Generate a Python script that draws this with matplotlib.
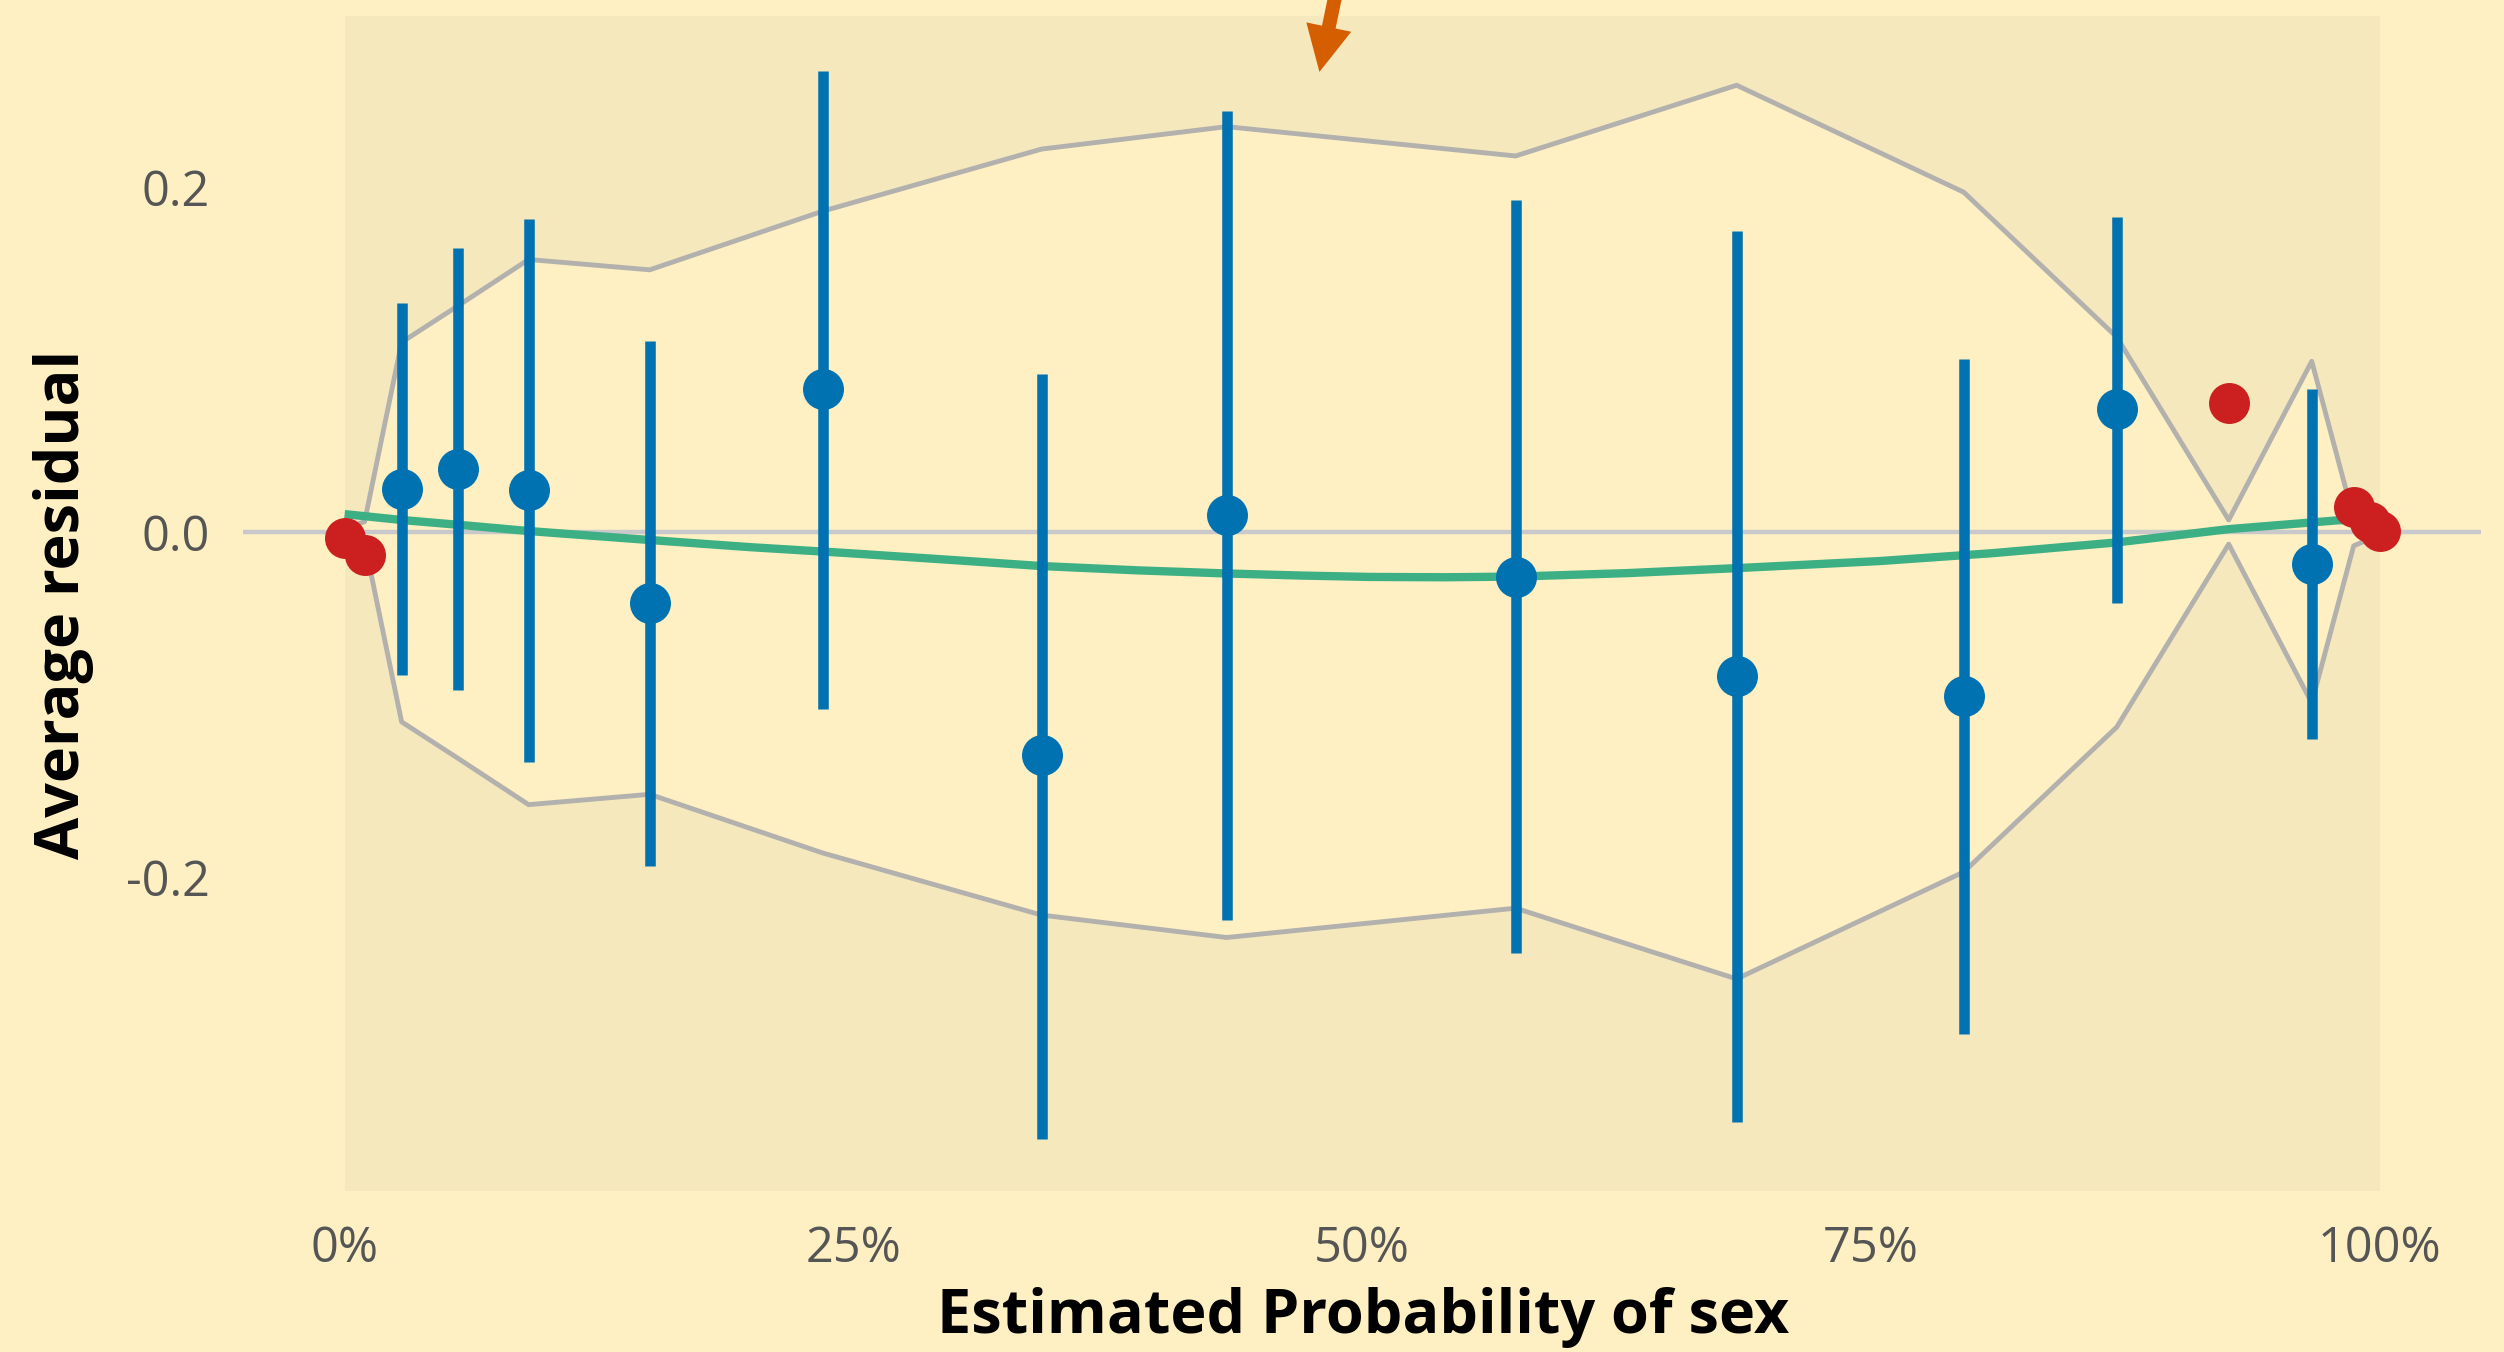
import matplotlib
matplotlib.use("Agg")
import matplotlib.pyplot as plt
from matplotlib.patches import ArrowStyle

plt.rcParams["font.family"] = ["Open Sans", "DejaVu Sans"]

# binned residuals (blue = inside the +/- 2 SE band)
blue_x = [0.028, 0.0555, 0.0904, 0.1499, 0.2349, 0.3425, 0.4334, 0.5754, 0.684, 0.7956, 0.8708, 0.9666]
blue_y = [0.0249, 0.0365, 0.0243, -0.0412, 0.0829, -0.1293, 0.0099, -0.0258, -0.0835, -0.0951, 0.0713, -0.0186]
blue_hi = [0.1328, 0.1646, 0.1814, 0.1107, 0.2672, 0.0916, 0.244, 0.1925, 0.1745, 0.1003, 0.1826, 0.0829]
blue_lo = [-0.0829, -0.0916, -0.1333, -0.1936, -0.1026, -0.3519, -0.2249, -0.244, -0.342, -0.291, -0.0412, -0.1197]

# bins outside the band
red_x = [0.0, 0.0098, 0.9258, 0.9872, 0.995, 1.0]
red_y = [-0.0035, -0.0133, 0.0748, 0.0145, 0.0058, 0.0006]

# +/- 2 SE envelope at each bin
env_x = [0.0, 0.0098, 0.028, 0.0555, 0.0904, 0.1499, 0.2349, 0.3425, 0.4334, 0.5754, 0.684, 0.7956, 0.8708, 0.9258, 0.9666, 0.9872, 0.995, 1.0]
env_w = [0.002, 0.006, 0.110, 0.131, 0.158, 0.152, 0.186, 0.222, 0.235, 0.218, 0.259, 0.197, 0.113, 0.007, 0.099, 0.008, 0.004, 0.001]

# smooth trend through the residuals
trend_x = [0.0, 0.028, 0.06, 0.0904, 0.1499, 0.2, 0.2473, 0.3, 0.3425, 0.39, 0.4334, 0.47, 0.5037, 0.54, 0.5754, 0.63,
           0.684, 0.7543, 0.81, 0.8708, 0.9258, 0.9793, 1.0]
trend_y = [0.0104, 0.007, 0.0038, 0.0006, -0.0046, -0.0088, -0.0122, -0.0163, -0.0197, -0.0222, -0.024, -0.0252, -0.026,
           -0.0262, -0.0258, -0.0238, -0.0209, -0.0168, -0.0122, -0.006, 0.0017, 0.0068, 0.0075]

x_ticks = [0, 0.25, 0.5, 0.75, 1.0]
x_labels = ["0%", "25%", "50%", "75%", "100%"]
y_ticks = [-0.2, 0.0, 0.2]
y_labels = ["-0.2", "0.0", "0.2"]

bg = "#FEF0C2"
panel = "#F6E8BD"
blue = "#0072B2"
red = "#CC2020"
green = "#3DAF84"
grey = "#B3B1AE"

fig = plt.figure(figsize=(25.04, 13.52), dpi=100, facecolor=bg)
ax = fig.add_axes([0.097, 0.119, 0.894, 0.869])
ax.set_facecolor(bg)
for s in ax.spines.values():
    s.set_visible(False)

ax.axvspan(0, 1, color=panel, lw=0, zorder=0)
upper = [w for w in env_w]
lower = [-w for w in env_w]
ax.fill_between(env_x, lower, upper, color=bg, lw=0, zorder=1)
ax.plot(env_x, upper, color=grey, lw=3.5, zorder=2)
ax.plot(env_x, lower, color=grey, lw=3.5, zorder=2)
ax.axhline(0, color="#C9C9CC", lw=3.2, zorder=2)
ax.plot(trend_x, trend_y, color=green, lw=6, zorder=3, solid_capstyle="butt")

ax.vlines(blue_x, blue_lo, blue_hi, color=blue, lw=7.6, zorder=4, capstyle="butt")
ax.plot(blue_x, blue_y, "o", color=blue, ms=29.5, mew=0, zorder=5)
ax.plot(red_x, red_y, "o", color=red, ms=29.5, mew=0, zorder=5)

# orange arrow coming in from above the figure
ax.annotate("", xy=(0.479, 0.2667), xytext=(0.4937, 0.35),
            arrowprops=dict(arrowstyle=ArrowStyle("simple", head_length=33, head_width=33, tail_width=10),
                            color="#D55E00", lw=0, mutation_scale=1, shrinkA=0, shrinkB=0),
            annotation_clip=False, zorder=6)

ax.set_xlim(-0.05, 1.05)
ax.set_ylim(-0.382, 0.299)
ax.set_xticks(x_ticks)
ax.set_xticklabels(x_labels)
ax.set_yticks(y_ticks)
ax.set_yticklabels(y_labels)
ax.tick_params(length=0, labelsize=35, labelcolor="#555555")
ax.tick_params(axis="x", pad=24)
ax.tick_params(axis="y", pad=24)

fig.text(0.5445, 1 - 1318 / 1352, "Estimated Probability of sex", ha="center", va="center",
         fontsize=44, fontweight="bold", color="black")
fig.text(64 / 2504, 1 - 604 / 1352, "Average residual", ha="center", va="center", rotation=90,
         fontsize=44, fontweight="bold", color="black")

fig.savefig("out.png", dpi=100, facecolor=bg)
